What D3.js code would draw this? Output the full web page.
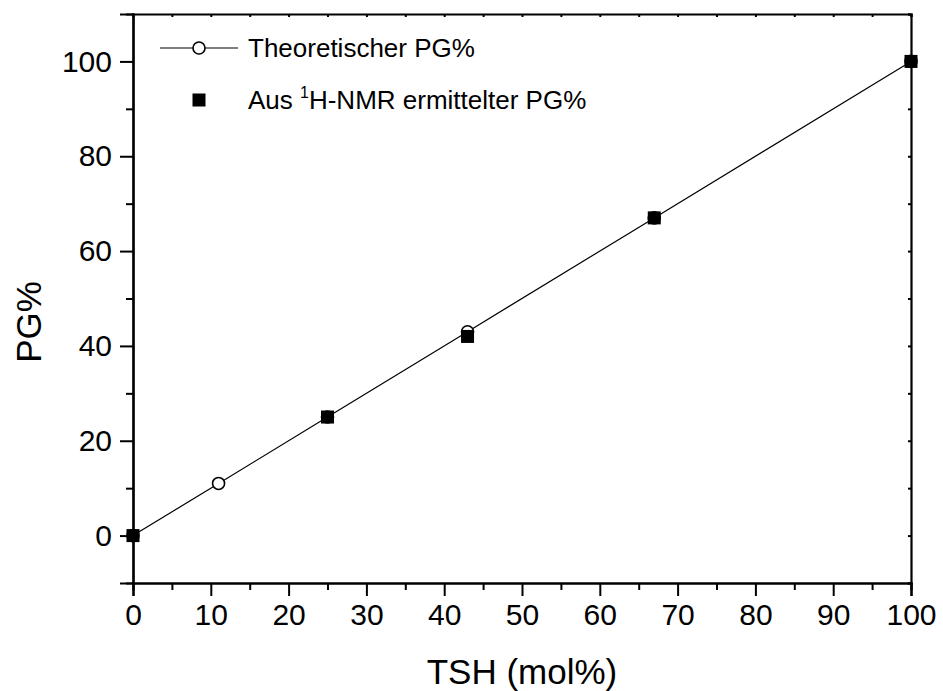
<!DOCTYPE html>
<html>
<head>
<meta charset="utf-8">
<script src="https://cdn.jsdelivr.net/npm/d3@7"></script>
<style>
  body { margin: 0; background: #fff; }
  svg text { font-family: "Liberation Sans", Arial, sans-serif; fill: #000; }
</style>
</head>
<body>
<svg id="chart" width="943" height="691"></svg>
<script>
// data
var tshTheo = [0, 11, 25, 43, 67, 100];
var pgTheo  = [0, 11, 25, 43, 67, 100];
var tshNmr  = [0, 25, 43, 67, 100];
var pgNmr   = [0, 25, 42, 67, 100];
var xTicks  = [0, 10, 20, 30, 40, 50, 60, 70, 80, 90, 100];
var yTicks  = [0, 20, 40, 60, 80, 100];
var legendLabels = ["Theoretischer PG%", "Aus ", "1", "H-NMR ermittelter PG%"];

var svg = d3.select("#chart");
var plotLeft = 133, plotRight = 911, plotTop = 14, plotBottom = 583;

var x = d3.scaleLinear().domain([0, 100]).range([plotLeft, plotRight]);
var y = d3.scaleLinear().domain([-10, 110]).range([plotBottom, plotTop]);

// bottom axis
svg.append("g").attr("transform", "translate(0," + plotBottom + ")")
    .call(d3.axisBottom(x).tickValues(xTicks).tickSize(13).tickPadding(8).tickFormat(d3.format("d")));
svg.append("g").attr("transform", "translate(0," + plotBottom + ")")
    .call(d3.axisBottom(x).tickValues(d3.range(5, 100, 10)).tickSize(7).tickFormat(""));

// left axis
svg.append("g").attr("transform", "translate(" + plotLeft + ",0)")
    .call(d3.axisLeft(y).tickValues(yTicks).tickSize(13).tickPadding(8).tickFormat(d3.format("d")));
svg.append("g").attr("transform", "translate(" + plotLeft + ",0)")
    .call(d3.axisLeft(y).tickValues(d3.range(10, 110, 20)).tickSize(7).tickFormat(""));

// top and right axes, tiny inward ticks
svg.append("g").attr("transform", "translate(0," + plotTop + ")")
    .call(d3.axisTop(x).tickValues(d3.range(0, 101, 5)).tickSize(-3).tickFormat(""));
svg.append("g").attr("transform", "translate(" + plotRight + ",0)")
    .call(d3.axisRight(y).tickValues(d3.range(-10, 111, 10)).tickSize(-3).tickFormat(""));

svg.selectAll(".domain").attr("stroke", "#000").attr("stroke-width", 2.2);
svg.selectAll(".tick line").attr("stroke", "#000").attr("stroke-width", 2);
svg.selectAll(".tick text").attr("font-size", 30).attr("fill", "#000");

// axis titles
svg.append("text").attr("x", (plotLeft + plotRight) / 2).attr("y", 684)
    .attr("text-anchor", "middle").attr("font-size", 35).text("TSH (mol%)");
svg.append("text").attr("transform", "translate(41,322) rotate(-90)")
    .attr("text-anchor", "middle").attr("font-size", 35).text("PG%");

// theoretical line + open circles
var theo = tshTheo.map(function (d, i) { return [d, pgTheo[i]]; });
var nmr = tshNmr.map(function (d, i) { return [d, pgNmr[i]]; });

var line = d3.line()
    .x(function (d) { return x(d[0]); })
    .y(function (d) { return y(d[1]); });

svg.append("path").datum(theo).attr("d", line)
    .attr("fill", "none").attr("stroke", "#000").attr("stroke-width", 1.2);

svg.append("g").selectAll("circle").data(theo).enter().append("circle")
    .attr("cx", function (d) { return x(d[0]); })
    .attr("cy", function (d) { return y(d[1]); })
    .attr("r", 6).attr("fill", "#fff").attr("stroke", "#000").attr("stroke-width", 1.6);

var sq = 13;
svg.append("g").selectAll("rect").data(nmr).enter().append("rect")
    .attr("x", function (d) { return x(d[0]) - sq / 2; })
    .attr("y", function (d) { return y(d[1]) - sq / 2; })
    .attr("width", sq).attr("height", sq).attr("fill", "#000");

// legend
var lg = svg.append("g");
lg.append("line").attr("x1", 160).attr("x2", 238).attr("y1", 48).attr("y2", 48)
    .attr("stroke", "#000").attr("stroke-width", 1.2);
lg.append("circle").attr("cx", 199).attr("cy", 48).attr("r", 6)
    .attr("fill", "#fff").attr("stroke", "#000").attr("stroke-width", 1.6);
lg.append("text").attr("x", 248).attr("y", 57).attr("font-size", 26).text(legendLabels[0]);

lg.append("rect").attr("x", 199 - sq / 2).attr("y", 100 - sq / 2)
    .attr("width", sq).attr("height", sq).attr("fill", "#000");
var t2 = lg.append("text").attr("x", 248).attr("y", 109).attr("font-size", 26);
t2.append("tspan").text(legendLabels[1]);
t2.append("tspan").attr("dy", -11).attr("font-size", 16).text(legendLabels[2]);
t2.append("tspan").attr("dy", 11).text(legendLabels[3]);
</script>
</body>
</html>
